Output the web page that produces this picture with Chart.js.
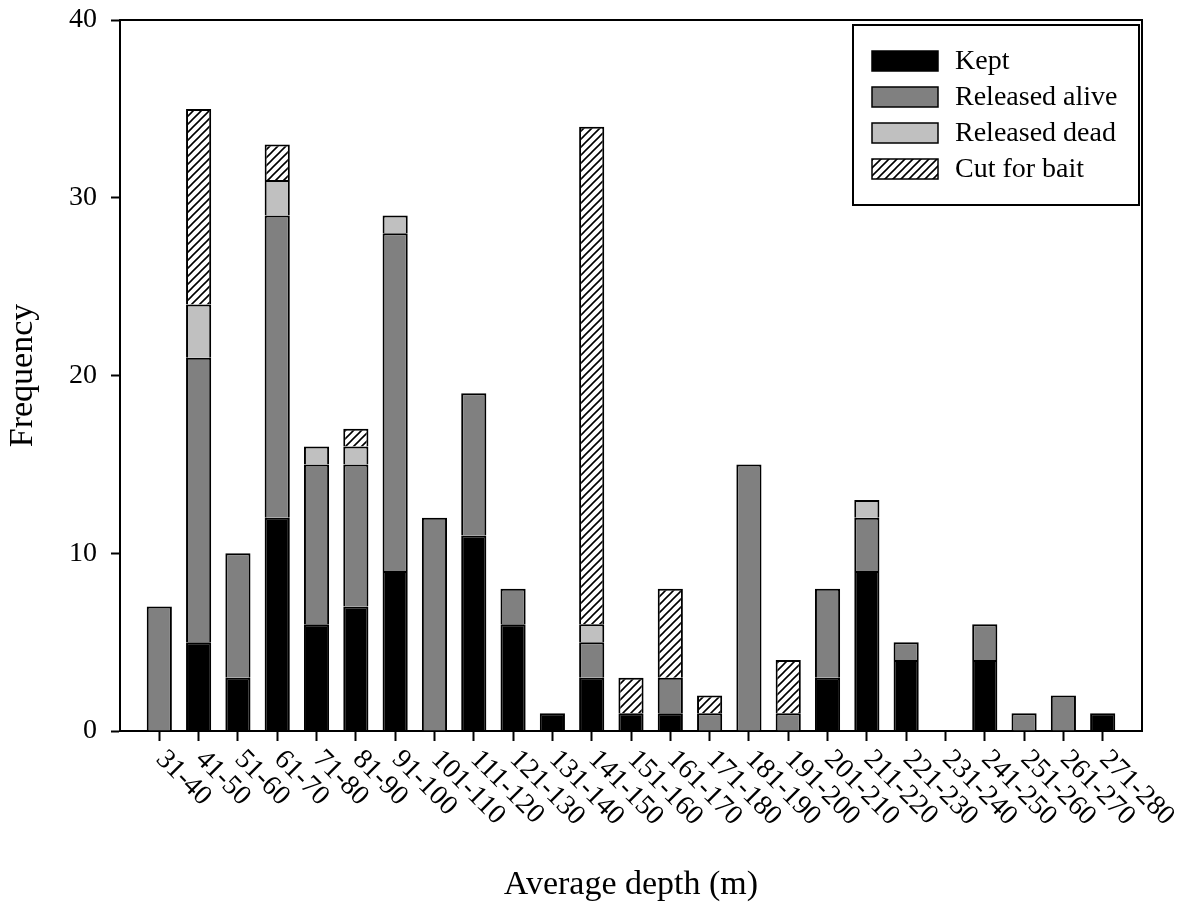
<!DOCTYPE html>
<html>
<head>
<meta charset="utf-8">
<script src="https://cdn.jsdelivr.net/npm/chart.js@4.4.0/dist/chart.umd.min.js"></script>
<style>
html, body { margin: 0; padding: 0; background: #ffffff; }
#wrap { width: 1191px; height: 907px; position: relative; }
</style>
</head>
<body>
<div id="wrap"><canvas id="c"></canvas></div>
<script>
// ---- data ----
const categories = ['31-40','41-50','51-60','61-70','71-80','81-90','91-100','101-110','111-120','121-130','131-140','141-150','151-160','161-170','171-180','181-190','191-200','201-210','211-220','221-230','231-240','241-250','251-260','261-270','271-280'];
const kept          = [0, 5, 3, 12, 6, 7, 9, 0, 11, 6, 1, 3, 1, 1, 0, 0, 0, 3, 9, 4, 0, 4, 0, 0, 1];
const releasedAlive = [7, 16, 7, 17, 9, 8, 19, 12, 8, 2, 0, 2, 0, 2, 1, 15, 1, 5, 3, 1, 0, 2, 1, 2, 0];
const releasedDead  = [0, 3, 0, 2, 1, 1, 1, 0, 0, 0, 0, 1, 0, 0, 0, 0, 0, 0, 1, 0, 0, 0, 0, 0, 0];
const cutForBait    = [0, 11, 0, 2, 0, 1, 0, 0, 0, 0, 0, 28, 2, 5, 1, 0, 3, 0, 0, 0, 0, 0, 0, 0, 0];
const seriesNames = ['Kept', 'Released alive', 'Released dead', 'Cut for bait'];
const yTicks = [0, 10, 20, 30, 40];
const xTitle = 'Average depth (m)';
const yTitle = 'Frequency';

// ---- helpers ----
const FONT = '"Liberation Serif", "Times New Roman", serif';
function makeHatch() {
  const c = document.createElement('canvas');
  c.width = 8; c.height = 8;
  const g = c.getContext('2d');
  g.fillStyle = '#ffffff';
  g.fillRect(0, 0, 8, 8);
  g.strokeStyle = '#000000';
  g.lineWidth = 1.6;
  g.beginPath();
  g.moveTo(-2, 10); g.lineTo(10, -2);
  g.moveTo(-6, 6); g.lineTo(6, -6);
  g.moveTo(2, 14); g.lineTo(14, 2);
  g.stroke();
  return g.createPattern(c, 'repeat');
}
const hatch = makeHatch();
const pad = arr => [null, ...arr, null];
const labels = ['', ...categories, ''];

const boxPlugin = {
  id: 'boxPlugin',
  afterDraw(chart) {
    const { ctx, chartArea: ca } = chart;
    ctx.save();
    ctx.strokeStyle = '#000';
    ctx.lineWidth = 2;
    ctx.beginPath();
    ctx.moveTo(ca.left, ca.top);
    ctx.lineTo(ca.right, ca.top);
    ctx.lineTo(ca.right, ca.bottom);
    ctx.stroke();
    ctx.restore();
  }
};

const xLabelPlugin = {
  id: 'xLabelPlugin',
  afterDraw(chart) {
    const { ctx, chartArea: ca } = chart;
    const xs = chart.scales.x;
    ctx.save();
    ctx.font = '28px ' + FONT;
    ctx.fillStyle = '#000';
    ctx.textAlign = 'left';
    ctx.textBaseline = 'middle';
    categories.forEach((lab, i) => {
      const x = xs.getPixelForValue(i + 1);
      ctx.save();
      ctx.translate(x + 1, ca.bottom + 24);
      ctx.rotate(Math.PI / 4);
      ctx.fillText(lab, 0, 0);
      ctx.restore();
    });
    ctx.restore();
  }
};

const legendPlugin = {
  id: 'legendPlugin',
  afterDraw(chart) {
    const { ctx, chartArea: ca } = chart;
    const bx = ca.right - 289, by = ca.top + 5, bw = 286, bh = 180;
    ctx.save();
    ctx.fillStyle = '#fff';
    ctx.fillRect(bx, by, bw, bh);
    ctx.strokeStyle = '#000';
    ctx.lineWidth = 2;
    ctx.strokeRect(bx, by, bw, bh);
    ctx.font = '28px ' + FONT;
    ctx.textAlign = 'left';
    ctx.textBaseline = 'middle';
    chart.data.datasets.forEach((ds, i) => {
      const cy = by + 36 + i * 36;
      ctx.fillStyle = ds.backgroundColor;
      ctx.fillRect(bx + 19, cy - 10, 66, 20);
      ctx.lineWidth = 1.5;
      ctx.strokeStyle = '#000';
      ctx.strokeRect(bx + 19, cy - 10, 66, 20);
      ctx.fillStyle = '#000';
      ctx.fillText(ds.label, bx + 102, cy + 1);
    });
    ctx.restore();
  }
};

new Chart(document.getElementById('c'), {
  type: 'bar',
  data: {
    labels: labels,
    datasets: [
      { label: seriesNames[0], data: pad(kept), backgroundColor: '#000000' },
      { label: seriesNames[1], data: pad(releasedAlive), backgroundColor: '#808080' },
      { label: seriesNames[2], data: pad(releasedDead), backgroundColor: '#c0c0c0' },
      { label: seriesNames[3], data: pad(cutForBait), backgroundColor: hatch }
    ]
  },
  options: {
    responsive: true,
    maintainAspectRatio: false,
    animation: false,
    devicePixelRatio: 1,
    layout: { padding: { left: 0, top: 20, right: 49, bottom: 0 } },
    datasets: { bar: { borderColor: '#000', borderWidth: 2, categoryPercentage: 1, barPercentage: 0.64 } },
    plugins: { legend: { display: false }, tooltip: { enabled: false } },
    scales: {
      x: {
        stacked: true,
        offset: false,
        grid: {
          offset: false, drawOnChartArea: false, drawTicks: true, tickLength: 10, tickWidth: 2,
          tickColor: c => (c.index === 0 || c.index === labels.length - 1) ? 'rgba(0,0,0,0)' : '#000'
        },
        border: { display: true, color: '#000', width: 2 },
        ticks: { display: false, autoSkip: false },
        title: { display: true, text: xTitle, color: '#000', font: { family: FONT, size: 34 }, padding: { top: 0, bottom: 2 } },
        afterFit(s) { s.height = 176; s.paddingLeft = 0; s.paddingRight = 0; }
      },
      y: {
        stacked: true,
        min: 0, max: 40,
        afterBuildTicks(s) { s.ticks = yTicks.map(v => ({ value: v })); },
        ticks: { color: '#000', font: { family: FONT, size: 28 }, padding: 14 },
        grid: { drawOnChartArea: false, tickLength: 9, tickWidth: 2, tickColor: '#000' },
        border: { display: true, color: '#000', width: 2 },
        title: { display: true, text: yTitle, color: '#000', font: { family: FONT, size: 34 }, padding: { top: 3, bottom: 0 } },
        afterFit(s) { s.width = 120; s.paddingTop = 0; s.paddingBottom = 0; }
      }
    }
  },
  plugins: [boxPlugin, xLabelPlugin, legendPlugin]
});
</script>
</body>
</html>
